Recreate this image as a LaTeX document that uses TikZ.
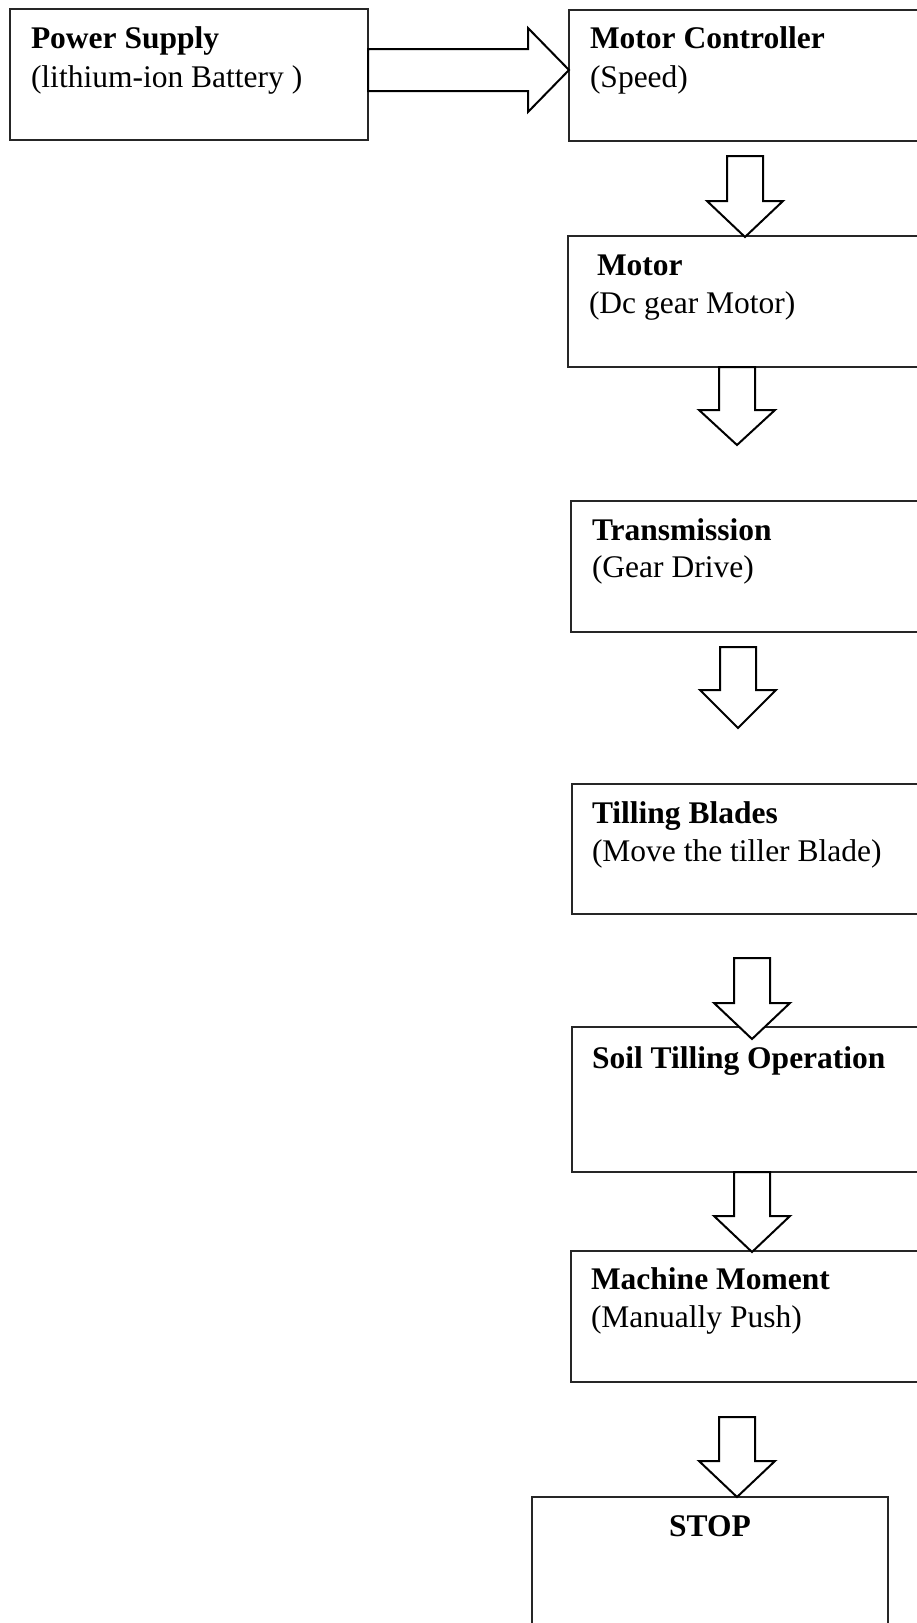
\documentclass[tikz,border=0pt]{standalone}
\usepackage{fontspec}
\setmainfont{Liberation Serif}
\usetikzlibrary{calc}
\begin{document}
\begin{tikzpicture}[x=1pt,y=-1pt,
  box/.style={draw=black!85,line width=1.1pt,inner sep=0pt,outer sep=0pt,anchor=north west,rectangle},
  lbl/.style={anchor=base west,inner sep=0pt,outer sep=0pt,font=\fontsize{31.5}{38}\selectfont},
  blockarrow/.style={draw=black,line width=2pt,line join=miter,fill=white}]
\useasboundingbox (0,0) rectangle (916,1623);
\newcommand{\dnarrow}[3]{%
  \draw[blockarrow] ($(#1)+(-18,0)$) -- ($(#1)+(18,0)$) -- ($(#1)+(18,#2)$) -- ($(#1)+(38,#2)$) -- (#3) -- ($(#1)+(-38,#2)$) -- ($(#1)+(-18,#2)$) -- cycle;}
% boxes
\node[box,minimum width=358pt,minimum height=131pt] (pwr) at (10,9) {};
\node[box,minimum width=361pt,minimum height=131pt] (ctrl) at (569,10) {};
\node[box,minimum width=362pt,minimum height=131pt] (motor) at (568,236) {};
\node[box,minimum width=359pt,minimum height=131pt] (trans) at (571,501) {};
\node[box,minimum width=358pt,minimum height=130pt] (blades) at (572,784) {};
\node[box,minimum width=358pt,minimum height=145pt] (soil) at (572,1027) {};
\node[box,minimum width=359pt,minimum height=131pt] (mach) at (571,1251) {};
\node[box,minimum width=356pt,minimum height=150pt] (stop) at (532,1497) {};
% texts
\node[lbl] (pwr1) at (31,48) {\textbf{Power Supply}};
\node[lbl] (pwr2) at (31,87) {(lithium-ion Battery )};
\node[lbl] (ctrl1) at (590,48) {\textbf{Motor Controller}};
\node[lbl] (ctrl2) at (590,87) {(Speed)};
\node[lbl] (motor1) at (597,275) {\textbf{Motor}};
\node[lbl] (motor2) at (589,313) {(Dc gear Motor)};
\node[lbl] (trans1) at (592,540) {\textbf{Transmission}};
\node[lbl] (trans2) at (592,577) {(Gear Drive)};
\node[lbl] (blades1) at (592,823) {\textbf{Tilling Blades}};
\node[lbl] (blades2) at (592,861) {(Move the tiller Blade)};
\node[lbl] (soil1) at (592,1068) {\textbf{Soil Tilling Operation}};
\node[lbl] (mach1) at (591,1289) {\textbf{Machine Moment}};
\node[lbl] (mach2) at (591,1327) {(Manually Push)};
\node[lbl,anchor=base] (stop1) at (710,1536) {\textbf{STOP}};
% horizontal arrow
\coordinate (hy) at (0,70);
\coordinate (h0) at (pwr.east |- hy);
\coordinate (htip) at (ctrl.west |- hy);
\draw[blockarrow] ($(h0)+(0,-21)$) -- ($(h0)+(160,-21)$) -- ($(h0)+(160,-42)$) -- (htip) -- ($(h0)+(160,42)$) -- ($(h0)+(160,21)$) -- ($(h0)+(0,21)$) -- cycle;
% vertical arrows
\coordinate (x737) at (737,0);
\coordinate (x752) at (752,0);
\coordinate (a1) at (745,156); \coordinate (a1t) at (745,237);
\dnarrow{a1}{45}{a1t}
\coordinate (a2) at (motor.south -| x737); \coordinate (a2t) at (737,445);
\dnarrow{a2}{43}{a2t}
\coordinate (a3) at (738,647); \coordinate (a3t) at (738,728);
\dnarrow{a3}{43}{a3t}
\coordinate (a4) at (752,958); \coordinate (a4t) at (752,1039);
\dnarrow{a4}{45}{a4t}
\coordinate (a5) at (soil.south -| x752); \coordinate (a5t) at (752,1252);
\dnarrow{a5}{44}{a5t}
\coordinate (a6) at (737,1417); \coordinate (a6t) at (stop.north -| x737);
\dnarrow{a6}{44}{a6t}
\end{tikzpicture}
\end{document}
